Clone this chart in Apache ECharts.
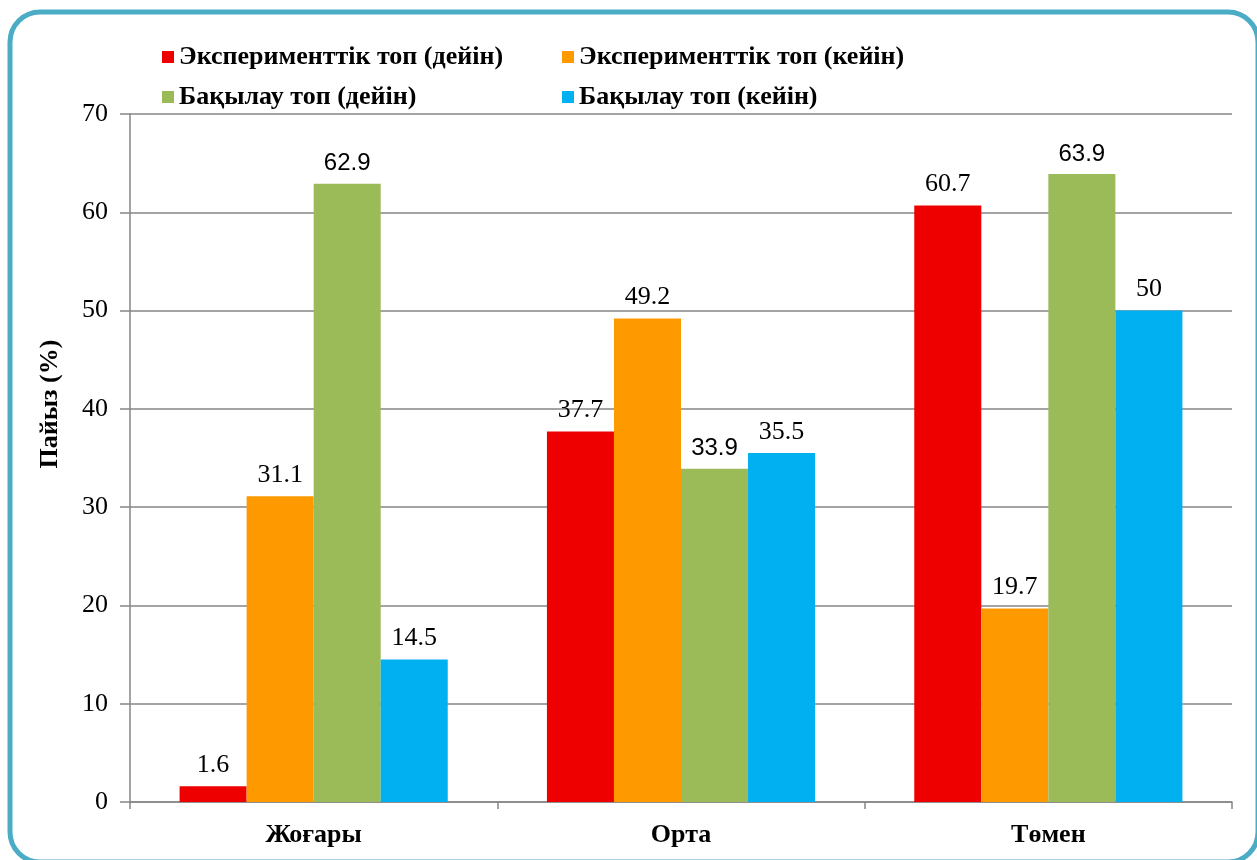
<!DOCTYPE html>
<html>
<head>
<meta charset="utf-8">
<script src="https://cdn.jsdelivr.net/npm/echarts@6/dist/echarts.min.js"></script>
<style>
  html, body { margin: 0; padding: 0; background: #fff; }
  #main { width: 1257px; height: 860px; }
</style>
</head>
<body>
<div id="main"></div>
<script>
const CATEGORIES = ['Жоғары', 'Орта', 'Төмен']
const SERIES_NAMES = [
  'Эксперименттік топ (дейін)',
  'Эксперименттік топ (кейін)',
  'Бақылау топ (дейін)',
  'Бақылау топ (кейін)',
]
const EXP_BEFORE = [1.6, 37.7, 60.7]
const EXP_AFTER = [31.1, 49.2, 19.7]
const CTRL_BEFORE = [62.9, 33.9, 63.9]
const CTRL_AFTER = [14.5, 35.5, 50]
const Y_TICKS = { min: 0, max: 70, interval: 10 }

const COLORS = ['#ee0000', '#ff9900', '#9bbb59', '#00b0f0']
const SERIF = '"Liberation Serif", "Times New Roman", serif'
const SANS = '"Liberation Sans", Arial, sans-serif'

function bar(name, data, color, labelFont, labelSize) {
  return {
    name, type: 'bar', data,
    barGap: '0%',
    barCategoryGap: '27%',
    itemStyle: { color },
    label: {
      show: true, position: 'top', distance: 8,
      color: '#000', fontSize: labelSize, fontFamily: labelFont,
    },
  }
}

const chart = echarts.init(document.getElementById('main'), null, { renderer: 'canvas' })
chart.setOption({
  backgroundColor: '#fff',
  animation: false,
  grid: { left: 130, right: 25, top: 114, bottom: 58, containLabel: false },
  legend: {
    left: 157, top: 37, width: 820,
    itemWidth: 12, itemHeight: 12, itemGap: 10,
    icon: 'rect',
    textStyle: {
      color: '#000', fontSize: 26, fontWeight: 'bold', fontFamily: SERIF,
      width: 373, lineHeight: 30,
    },
    data: SERIES_NAMES,
  },
  xAxis: {
    type: 'category', data: CATEGORIES,
    axisLine: { lineStyle: { color: '#868686', width: 1.5 } },
    axisTick: { show: true, length: 7, lineStyle: { color: '#868686', width: 1.5 } },
    axisLabel: { color: '#000', fontSize: 26, fontWeight: 'bold', fontFamily: SERIF, margin: 20 },
  },
  yAxis: {
    type: 'value', min: Y_TICKS.min, max: Y_TICKS.max, interval: Y_TICKS.interval,
    axisLine: { show: true, lineStyle: { color: '#868686', width: 1.5 } },
    axisTick: { show: true, length: 10, lineStyle: { color: '#868686', width: 1.5 } },
    axisLabel: { color: '#000', fontSize: 26, fontFamily: SERIF, margin: 22 },
    splitLine: { lineStyle: { color: '#868686', width: 1.5 } },
  },
  graphic: [
    {
      type: 'rect', silent: true,
      shape: { x: 10, y: 12, width: 1248, height: 850, r: 30 },
      style: { fill: 'none', stroke: '#4bacc6', lineWidth: 5 },
    },
    {
      type: 'text', silent: true,
      x: 50, y: 404, rotation: Math.PI / 2,
      style: {
        text: 'Пайыз (%)', fill: '#000',
        font: 'bold 26px ' + SERIF,
        align: 'center', verticalAlign: 'middle',
      },
    },
  ],
  series: [
    bar(SERIES_NAMES[0], EXP_BEFORE, COLORS[0], SERIF, 26),
    bar(SERIES_NAMES[1], EXP_AFTER, COLORS[1], SERIF, 26),
    bar(SERIES_NAMES[2], CTRL_BEFORE, COLORS[2], SANS, 24),
    bar(SERIES_NAMES[3], CTRL_AFTER, COLORS[3], SERIF, 26),
  ],
})
</script>
</body>
</html>
